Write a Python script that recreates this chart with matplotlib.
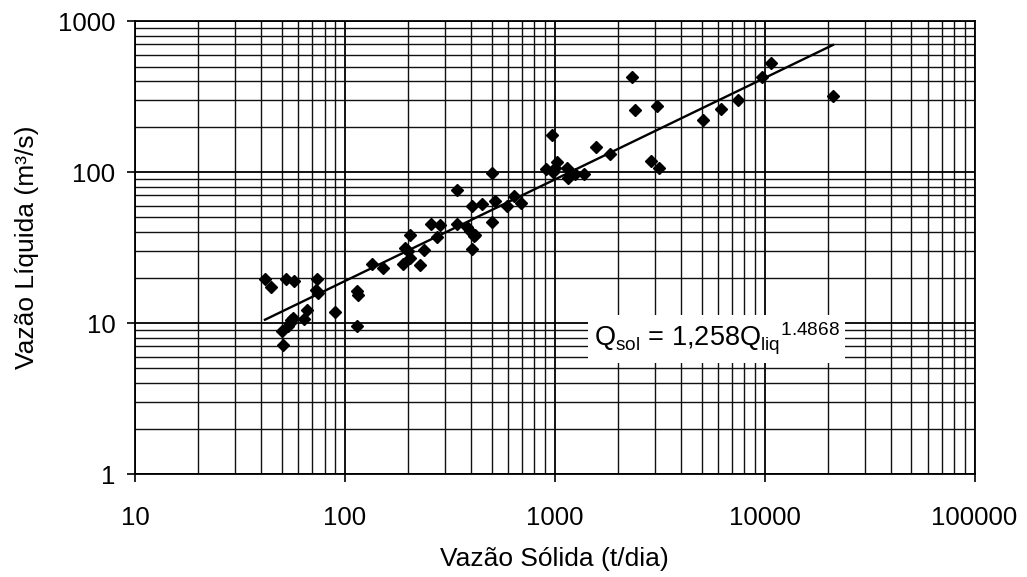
import matplotlib
matplotlib.use("Agg")
import matplotlib.pyplot as plt
import numpy as np
from matplotlib.ticker import LogLocator, FixedLocator, FixedFormatter, NullFormatter

plt.rcParams['font.family'] = ['Liberation Sans', 'DejaVu Sans']
plt.rcParams['mathtext.fontset'] = 'custom'
plt.rcParams['mathtext.rm'] = 'Liberation Sans'
plt.rcParams['mathtext.it'] = 'Liberation Sans'

# Observed data: sediment discharge (t/dia) vs liquid discharge (m3/s)
vazao_solida = [41.6, 44.3, 52.2, 57.4, 73.8, 73.0, 74.5, 114, 116, 135,
                90, 114, 49.9, 50.8, 54.7, 56.3, 53.7, 55.5, 63.8, 66.1,
                152, 189.5, 193, 200, 204, 205, 227, 239, 257, 283,
                275, 341, 342, 380, 395, 410, 417, 404, 404, 448,
                500, 500, 518, 593, 638, 687, 968, 906, 981, 1026,
                1000, 1137, 1150, 1245, 1380, 1567, 1829, 2335, 2422, 3083,
                2857, 3140, 5080, 6220, 7470, 9750, 10760, 21130]
vazao_liquida = [19.6, 17.3, 19.6, 19.1, 19.6, 16.5, 15.9, 16.4, 15.4, 24.6,
                 11.9, 9.5, 8.9, 7.1, 10.0, 10.8, 9.5, 10.4, 10.6, 12.25,
                 23.2, 24.6, 31.5, 30.0, 38.5, 27.0, 24.1, 30.3, 45.6, 44.5,
                 37.0, 75.8, 45.6, 43.0, 40.5, 37.6, 38.4, 31.1, 60.0, 61.8,
                 98, 46.5, 64, 59.4, 69.2, 61.9, 175, 104, 99.8, 116,
                 107, 107, 91.6, 96.4, 96.4, 146, 132, 423, 258, 274,
                 118, 106, 221, 263, 300, 423, 526, 319]

# Fitted curve: Qsol = a * Qliq^b
fit_a = 1.258
fit_b = 1.4868
fit_xrange = [41.6, 21130]

x_ticks = [10, 100, 1000, 10000, 100000]
x_labels = ['10', '100', '1000', '10000', '100000']
y_ticks = [1, 10, 100, 1000]
y_labels = ['1', '10', '100', '1000']

fig = plt.figure(figsize=(10.27, 5.77), dpi=100)
ax = fig.add_axes([0.1315, 0.1785, 0.8175, 0.785])
ax.set_xscale('log')
ax.set_yscale('log')
ax.set_xlim(10, 100000)
ax.set_ylim(1, 1000)

ax.xaxis.set_major_locator(FixedLocator(x_ticks))
ax.xaxis.set_major_formatter(FixedFormatter(x_labels))
ax.yaxis.set_major_locator(FixedLocator(y_ticks))
ax.yaxis.set_major_formatter(FixedFormatter(y_labels))
ax.xaxis.set_minor_locator(LogLocator(base=10, subs=np.arange(2, 10), numticks=20))
ax.yaxis.set_minor_locator(LogLocator(base=10, subs=np.arange(2, 10), numticks=20))
ax.xaxis.set_minor_formatter(NullFormatter())
ax.yaxis.set_minor_formatter(NullFormatter())

ax.grid(True, which='major', color='black', linewidth=1.3)
ax.grid(True, which='minor', color='#111111', linewidth=1.0)
ax.tick_params(which='major', direction='out', length=6, width=1.2, labelsize=18.5, pad=8, colors='black')
ax.tick_params(which='minor', length=0)
ax.tick_params(axis='x', pad=17)
for s in ax.spines.values():
    s.set_linewidth(1.3)
    s.set_color('black')
ax.set_axisbelow(True)

xf = np.geomspace(fit_xrange[0], fit_xrange[1], 50)
yf = (xf / fit_a) ** (1.0 / fit_b)
ax.plot(xf, yf, color='black', linewidth=1.7, zorder=3)

ax.plot(vazao_solida, vazao_liquida, linestyle='none', marker='D', markersize=6.5,
        color='black', zorder=4)

ax.text(0.693, 0.298, r'Q$_{\mathrm{sol}}$ = 1,258Q$_{\mathrm{liq}}$${}^{\mathrm{1.4868}}$',
        transform=ax.transAxes, ha='center', va='center', fontsize=19.5, color='black',
        bbox=dict(facecolor='white', edgecolor='none', pad=4), zorder=5)

ax.set_xlabel('Vazão Sólida (t/dia)', fontsize=19, labelpad=12)
ax.set_ylabel('Vazão Líquida (m³/s)', fontsize=19, labelpad=14)

fig.savefig('out.png', dpi=100)
